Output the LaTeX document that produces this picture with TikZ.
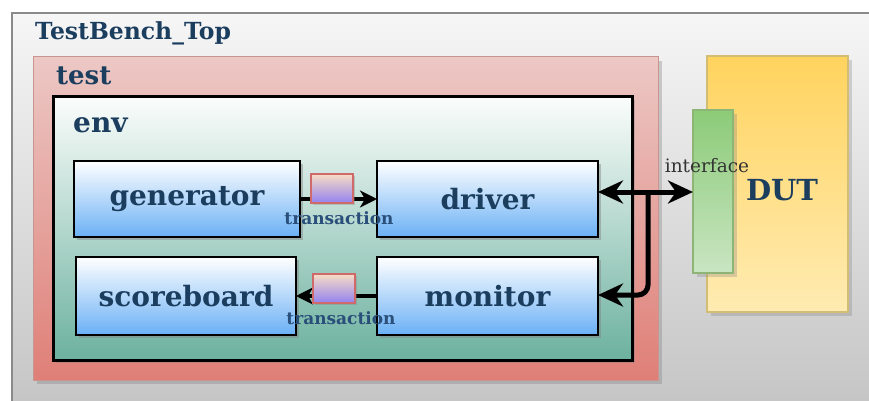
\documentclass[tikz,border=0pt]{standalone}
\usepackage{fontspec}
\setmainfont{DejaVu Serif}
\usetikzlibrary{shadows,arrows.meta}
\definecolor{txt}{HTML}{1B3D5E}
\definecolor{txt2}{HTML}{2A4F7A}
\definecolor{modblue}{HTML}{6AB0F5}
\definecolor{trred}{HTML}{D06A6A}
\definecolor{trtop}{HTML}{F9DCC4}
\definecolor{trbot}{HTML}{9282F0}
\definecolor{testtop}{HTML}{ECC8C5}
\definecolor{testbot}{HTML}{DF7F77}
\definecolor{testdraw}{HTML}{C99590}
\definecolor{envtop}{HTML}{FBFDFC}
\definecolor{envbot}{HTML}{6CB19E}
\definecolor{duttop}{HTML}{FFD35E}
\definecolor{dutbot}{HTML}{FFEBB2}
\definecolor{dutdraw}{HTML}{D2BE72}
\definecolor{itftop}{HTML}{8CCB78}
\definecolor{itfbot}{HTML}{C9E5C2}
\definecolor{itfdraw}{HTML}{8DB676}
\definecolor{tbtop}{HTML}{F6F6F6}
\definecolor{tbbot}{HTML}{C4C4C4}
\definecolor{tbdraw}{HTML}{8A8A8A}
\tikzset{
  smallhead/.tip={Stealth[length=17pt,width=17pt,inset=5pt]},
  bighead/.tip={Stealth[length=25pt,width=23pt,inset=8pt]},
}
\begin{document}
\begin{tikzpicture}[x=1pt,y=-1pt,
  box/.style={rectangle,anchor=north west,inner sep=0pt,outer sep=0pt},
  modbox/.style={box,draw=black,line width=2.8pt,top color=white,bottom color=modblue,
     drop shadow={shadow xshift=3pt,shadow yshift=-3pt,opacity=0.45}},
  modtxt/.style={font=\bfseries\fontsize{28}{30}\selectfont,text=txt},
  trbox/.style={box,draw=trred,line width=2pt,top color=trtop,bottom color=trbot,
     minimum width=42pt,minimum height=29pt,
     drop shadow={shadow xshift=2pt,shadow yshift=-2pt,opacity=0.35}},
  trtxt/.style={font=\bfseries\fontsize{17}{18}\selectfont,text=txt2},
  lbl/.style={anchor=base west,inner sep=0pt,text=txt,font=\bfseries},
  conn/.style={line width=3.5pt,-smallhead},
  bigarrow/.style={line width=5pt},
]
\useasboundingbox (0,0) rectangle (869,401);
\fill[white] (0,0) rectangle (869,401);
% outer TestBench_Top
\node[box,draw=tbdraw,line width=1.8pt,top color=tbtop,bottom color=tbbot,
  minimum width=880pt,minimum height=400pt] (tb) at (12,13) {};
\node[lbl,font=\bfseries\fontsize{23.5}{25}\selectfont] (tbl) at (35,40) {TestBench\_Top};
% test
\node[box,draw=testdraw,line width=1pt,top color=testtop,bottom color=testbot,
  minimum width=625pt,minimum height=323pt,
  drop shadow={shadow xshift=4pt,shadow yshift=-4pt,opacity=0.35}] (test) at (33,57) {};
\node[lbl,font=\bfseries\fontsize{26}{27}\selectfont] (testl) at (56,85) {test};
% env
\node[box,draw=black,line width=3pt,top color=envtop,bottom color=envbot,
  minimum width=579pt,minimum height=263pt,
  drop shadow={shadow xshift=3pt,shadow yshift=-3pt,opacity=0.35}] (env) at (53,97) {};
\node[lbl,font=\bfseries\fontsize{28}{29}\selectfont] (envl) at (73,132) {env};
% modules
\node[modbox,minimum width=226pt,minimum height=76pt] (gen) at (74,161) {};
\node[modtxt] at (gen.center) {generator};
\node[modbox,minimum width=221pt,minimum height=76pt] (drv) at (377,161) {};
\node[modtxt] at (drv.center) {driver};
\node[modbox,minimum width=220pt,minimum height=78pt] (sb) at (76,257) {};
\node[modtxt] at (sb.center) {scoreboard};
\node[modbox,minimum width=221pt,minimum height=78pt] (mon) at (377,257) {};
\node[modtxt] at (mon.center) {monitor};
% DUT and interface
\node[box,draw=dutdraw,line width=2pt,top color=duttop,bottom color=dutbot,
  minimum width=141pt,minimum height=256pt,
  drop shadow={shadow xshift=4pt,shadow yshift=-4pt,opacity=0.3}] (dut) at (707,56) {};
\node[font=\bfseries\fontsize{29}{30}\selectfont,text=txt] (dutl) at (782,190) {DUT};
\node[box,draw=itfdraw,line width=2pt,top color=itftop,bottom color=itfbot,
  minimum width=40pt,minimum height=163pt,
  drop shadow={shadow xshift=4pt,shadow yshift=-4pt,opacity=0.3}] (itf) at (693,110) {};
\node[font=\fontsize{18.5}{19}\selectfont,text=black!80] (itfl) at (707,166) {interface};
% transactions
\draw[conn] (gen.east) -- (drv.west);
\node[trbox] (t1) at (311,174) {};
\node[trtxt] (t1l) at (339,218) {transaction};
\draw[conn] (mon.west) -- (sb.east);
\node[trbox] (t2) at (313,274) {};
\node[trtxt] (t2l) at (341,318) {transaction};
% driver <-> interface, monitor
\coordinate (j) at (648,192);
\draw[bigarrow,bighead-bighead]
  (drv.east |- j) -- (itf.west |- j);
\draw[bigarrow,rounded corners=10pt,-bighead]
  (j) -- (648,295) -- (mon.east |- 0,295);
\end{tikzpicture}
\end{document}
